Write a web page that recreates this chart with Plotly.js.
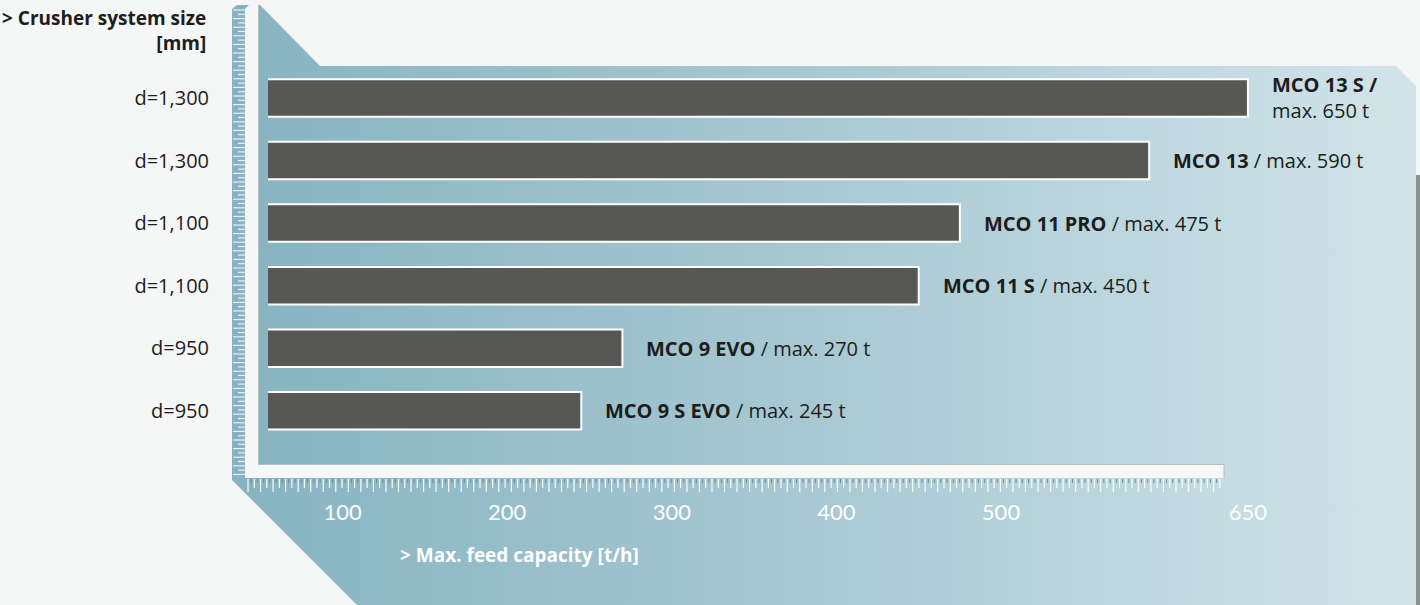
<!DOCTYPE html>
<html>
<head>
<meta charset="utf-8">
<script src="https://cdn.plot.ly/plotly-3.0.1.min.js"></script>
<style>
  html, body { margin: 0; padding: 0; background: #f5f6f6; }
  #chart { width: 1420px; height: 605px; }
</style>
</head>
<body>
<div id="chart"></div>
<script>
// ---------------- data ----------------
const models = ['MCO 13 S', 'MCO 13', 'MCO 11 PRO', 'MCO 11 S', 'MCO 9 EVO', 'MCO 9 S EVO'];
const capacity = [650, 590, 475, 450, 270, 245];
const crusherSize = ['d=1,300', 'd=1,300', 'd=1,100', 'd=1,100', 'd=950', 'd=950'];
const xTickVals = [100, 200, 300, 400, 500, 650];
const xTickText = ['100', '200', '300', '400', '500', '650'];
const yAxisTitle = '> Crusher system size<br>[mm]';
const xAxisTitle = '> Max. feed capacity [t/h]';

// ---------------- geometry (pixels) ----------------
const W = 1420, H = 605;
const plotL = 268, plotR = 1400, plotT = 66.7, plotB = 465;
const zeroPx = 178, pxPerUnit = 1.646;
const xRange = [(plotL - zeroPx) / pxPerUnit, (plotR - zeroPx) / pxPerUnit];
const FONT = '"Open Sans", "Noto Sans", sans-serif';
const TICKFONT = 'Lato, "Open Sans", sans-serif';

function poly(pts, extra) {
  return Object.assign({
    type: 'scatter', mode: 'lines', xaxis: 'x', yaxis: 'y',
    x: pts.map(p => p[0]).concat([pts[0][0]]),
    y: pts.map(p => p[1]).concat([pts[0][1]]),
    fill: 'toself', line: { width: 0 }, hoverinfo: 'skip', showlegend: false
  }, extra);
}
function segs(list, color, width) {
  const x = [], y = [];
  list.forEach(s => { x.push(s[0], s[2], null); y.push(s[1], s[3], null); });
  return { type: 'scatter', mode: 'lines', xaxis: 'x', yaxis: 'y', x, y,
    line: { color, width }, hoverinfo: 'skip', showlegend: false };
}

// background decoration
const bluePoly = poly([[232, 9], [237, 5], [260, 5], [320, 66], [1396, 66], [1416, 86],
  [1416, 605], [357, 605], [232, 480]], {
  fillcolor: '#a9cad4',
  fillgradient: { type: 'horizontal', colorscale: [[0, '#87b3c1'], [0.5, '#a8c9d3'], [1, '#d1e4e9']] }
});
const rightStrip = poly([[1416, 175], [1420, 175], [1420, 605], [1416, 605]], { fillcolor: '#8f8f8b' });
const whiteBand = poly([[245, 9], [249, 5], [258, 5], [258, 465], [1224, 465], [1224, 478], [245, 478]],
  { fillcolor: '#f6f7f7' });
const edgeLines = segs([[258.5, 5, 258.5, 464.5], [258.5, 464.5, 1224, 464.5], [1224, 465, 1224, 478]],
  '#b3bec2', 1);

const leftTicks = [];
for (let i = 0, y = 10; y < 476; i++, y += 4.3) {
  leftTicks.push([i % 2 === 0 ? 233 : 238, y, 245, y]);
}
const bottomWhite = [], bottomGrey = [];
for (let i = 0, x = 248; x < 1221; i++, x += 6.27) {
  bottomWhite.push([x, 479, x, i % 2 === 0 ? 492 : 488]);
  if (x + 3.1 < 1221) bottomGrey.push([x + 3.1, 479, x + 3.1, 483]);
}

const bgTraces = [bluePoly, rightStrip, whiteBand, edgeLines,
  segs(leftTicks, 'rgba(255,255,255,0.85)', 1.1),
  segs(bottomWhite, 'rgba(255,255,255,0.95)', 1.2),
  segs(bottomGrey, '#6f8e98', 1)];

// ---------------- bars ----------------
const bars = {
  type: 'bar', orientation: 'h', xaxis: 'x2', yaxis: 'y2',
  x: capacity, y: models, width: 0.6,
  marker: { color: '#575756', line: { color: '#ffffff', width: 2 } },
  hovertemplate: '%{y}: %{x} t/h<extra></extra>', showlegend: false
};

const maxCap = Math.max(...capacity);
const barLabels = models.map((m, i) => ({
  xref: 'x2', yref: 'y2', x: capacity[i], y: i,
  text: capacity[i] === maxCap
    ? '<b>' + m + ' /</b><br>max. ' + capacity[i] + ' t'
    : '<b>' + m + '</b> / max. ' + capacity[i] + ' t',
  showarrow: false, xanchor: 'left', yanchor: 'middle', align: 'left', xshift: 22,
  font: { family: FONT, size: 20, color: '#1d1d1b' }
}));

const layout = {
  width: W, height: H,
  margin: { l: 0, r: 0, t: 0, b: 0, pad: 0 },
  paper_bgcolor: '#f5f6f6', plot_bgcolor: 'rgba(0,0,0,0)',
  showlegend: false,
  xaxis: { domain: [0, 1], range: [0, W], visible: false, fixedrange: true },
  yaxis: { domain: [0, 1], range: [H, 0], visible: false, fixedrange: true },
  xaxis2: {
    domain: [plotL / W, plotR / W], range: xRange, anchor: 'y2',
    showgrid: false, zeroline: false, showline: false, ticks: '',
    tickmode: 'array', tickvals: xTickVals, ticktext: xTickText,
    tickfont: { family: TICKFONT, size: 22, color: '#ffffff', weight: 400 },
    ticklabelstandoff: 32, automargin: false, fixedrange: true
  },
  yaxis2: {
    domain: [1 - plotB / H, 1 - plotT / H], anchor: 'x2', type: 'category',
    range: [5.867, -0.5], showgrid: false, zeroline: false, showline: false, ticks: '',
    tickmode: 'array', tickvals: models, ticktext: crusherSize,
    tickfont: { family: FONT, size: 20, color: '#1d1d1b' },
    ticklabelstandoff: 58, automargin: false, fixedrange: true
  },
  annotations: barLabels.concat([
    { xref: 'paper', yref: 'paper', x: 208 / W, y: 1 - 3 / H, xanchor: 'right', yanchor: 'top',
      align: 'right', showarrow: false, text: '<b>' + yAxisTitle + '</b>',
      font: { family: FONT, size: 19, color: '#1d1d1b' } },
    { xref: 'paper', yref: 'paper', x: 398 / W, y: 1 - 555 / H, xanchor: 'left', yanchor: 'middle',
      showarrow: false, text: '<b>' + xAxisTitle + '</b>',
      font: { family: FONT, size: 19, color: '#ffffff' } }
  ])
};

Plotly.newPlot('chart', bgTraces.concat([bars]), layout, { displayModeBar: false, staticPlot: true });
</script>
</body>
</html>
